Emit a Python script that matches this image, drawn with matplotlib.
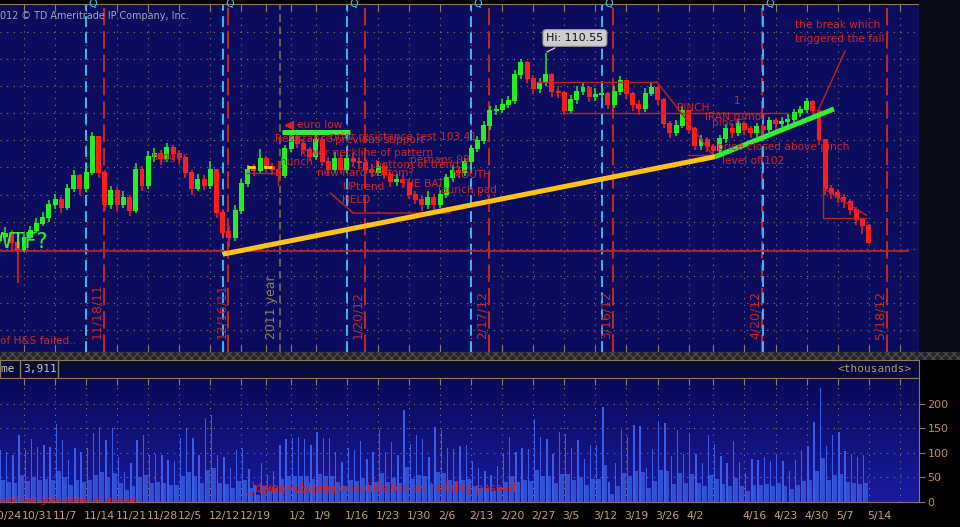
import matplotlib
matplotlib.use('Agg')
import matplotlib.pyplot as plt
import numpy as np
import pandas as pd
from matplotlib.patches import Rectangle
from matplotlib.colors import LinearSegmentedColormap

# ---------------- data ----------------
holidays = ['2011-12-23', '2011-12-26', '2012-01-02', '2012-04-06']
week_labels = ['10/24', '10/31', '11/7', '11/14', '11/21', '11/28', '12/5', '12/12', '12/19', '',
               '1/2', '1/9', '1/16', '1/23', '1/30', '2/6', '2/13', '2/20', '2/27', '3/5', '3/12',
               '3/19', '3/26', '4/2', '', '4/16', '4/23', '4/30', '5/7', '5/14', '']

closes = [93.2, 93.6, 93.9, 93.0, 92.4, 93.5, 94.1, 94.8, 95.3, 96.5, 97.0, 96.3, 98.0, 99.2, 98.0,
          99.5, 102.8, 99.5, 96.5, 97.8, 96.5, 97.2, 96.0, 99.8, 98.3, 101.0, 101.2, 100.8, 101.8,
          101.2, 100.9, 99.5, 98.0, 98.8, 98.3, 99.8, 95.8, 94.0, 93.5, 96.0, 98.5, 99.8, 99.7,
          100.8, 100.0, 99.8, 99.2, 101.7, 102.8, 102.2, 101.6, 101.0, 102.5, 100.5, 99.8, 100.8,
          99.8, 100.8, 100.5, 100.4, 99.8, 99.5, 100.0, 99.3, 98.7, 98.8, 98.6, 97.5, 97.0, 96.5,
          97.2, 96.5, 97.5, 99.0, 99.7, 99.5, 100.5, 101.7, 102.4, 103.8, 105.2, 105.3, 105.8,
          106.1, 108.5, 109.6, 108.2, 107.2, 107.8, 108.5, 107.0, 106.9, 105.2, 106.2, 107.0,
          107.3, 106.5, 106.7, 106.8, 105.8, 107.0, 108.0, 106.8, 105.8, 105.4, 106.8, 107.3,
          106.2, 104.0, 103.2, 103.8, 105.2, 103.5, 102.0, 102.5, 101.9, 101.5, 102.6, 103.5,
          103.2, 104.0, 103.5, 103.2, 103.7, 103.5, 104.3, 104.0, 104.2, 104.4, 105.0, 105.3,
          106.0, 105.2, 102.5, 98.0, 97.6, 97.2, 96.8, 96.1, 95.2, 94.6, 93.07]
highs = [93.8, 94.2, 94.5, 94.2, 93.4, 93.9, 94.6, 95.3, 95.9, 97.0, 97.6, 97.3, 98.5, 99.8, 99.4,
         100.2, 103.3, 102.9, 99.8, 98.3, 98.2, 97.8, 97.5, 100.4, 100.1, 101.5, 101.8, 101.6,
         102.3, 102.1, 101.6, 101.1, 99.8, 99.4, 99.3, 100.6, 99.9, 96.2, 94.6, 96.5, 98.9, 100.2,
         100.3, 101.7, 101.1, 100.4, 100.1, 102.1, 103.3, 103.1, 102.6, 101.9, 103.3, 102.8,
         101.0, 101.4, 101.2, 101.4, 101.3, 101.0, 100.8, 100.3, 100.6, 100.4, 99.6, 99.4, 99.3,
         98.9, 97.8, 97.4, 97.8, 97.6, 97.9, 99.4, 100.2, 100.1, 100.9, 102.1, 102.9, 104.3,
         105.7, 105.8, 106.3, 106.6, 109.0, 110.0, 109.8, 108.5, 108.3, 110.55, 108.7, 107.5,
         107.1, 106.7, 107.5, 107.8, 107.5, 107.3, 107.3, 107.0, 107.5, 108.4, 108.1, 107.0,
         106.2, 107.3, 107.8, 107.5, 106.4, 104.3, 104.4, 105.7, 105.3, 103.7, 103.0, 102.8,
         102.2, 103.0, 104.0, 104.1, 104.5, 104.3, 103.8, 104.1, 104.0, 104.7, 104.6, 104.7,
         104.9, 105.4, 105.7, 106.4, 106.2, 105.3, 102.6, 98.4, 98.0, 97.6, 97.1, 96.4, 95.3, 94.8]
lows = [92.6, 92.9, 93.2, 92.3, 89.3, 92.2, 93.3, 94.0, 94.6, 95.0, 96.2, 95.8, 96.1, 97.7, 97.5,
        97.7, 99.3, 99.0, 96.0, 96.2, 96.0, 96.3, 95.5, 95.8, 97.8, 98.0, 100.5, 100.2, 100.5,
        100.7, 100.3, 99.0, 97.5, 97.8, 97.9, 98.0, 95.3, 93.5, 92.7, 93.2, 95.7, 98.2, 99.2,
        99.5, 99.6, 99.3, 98.8, 99.0, 101.4, 101.8, 101.2, 100.6, 100.7, 100.1, 99.3, 99.5, 99.4,
        99.5, 100.0, 99.9, 99.4, 99.1, 99.2, 98.9, 98.2, 98.3, 98.1, 97.1, 96.6, 96.0, 96.2, 96.1,
        96.3, 97.2, 98.7, 99.0, 99.2, 100.2, 101.4, 102.2, 103.5, 104.8, 105.0, 105.5, 105.9,
        108.2, 107.8, 106.8, 106.9, 107.5, 106.5, 106.4, 104.8, 104.9, 105.9, 106.7, 106.0,
        106.1, 106.3, 105.4, 105.5, 106.7, 106.3, 105.2, 104.8, 105.1, 106.6, 105.8, 103.6,
        102.7, 102.9, 103.6, 103.1, 101.6, 101.6, 101.4, 101.0, 101.2, 102.3, 102.7, 102.9,
        103.0, 102.7, 102.8, 103.0, 103.2, 103.5, 103.7, 103.9, 104.1, 104.7, 105.0, 104.8,
        102.1, 97.5, 97.1, 96.7, 96.3, 95.6, 94.7, 93.9, 92.9]

# volume (thousands), one value per session starting 10/25/11
vol_peak = [105, 102, 95, 136, 105, 129, 112, 115, 111, 158, 125, 85, 109, 101, 109, 140, 152, 125,
            150, 91, 60, 79, 125, 136, 95, 97, 95, 85, 83, 131, 150, 131, 95, 170, 176, 95, 91, 70,
            105, 109, 68, 35, 79, 54, 64, 115, 129, 131, 133, 129, 115, 143, 131, 131, 101, 81,
            109, 105, 123, 88, 101, 147, 101, 121, 95, 186, 117, 137, 129, 91, 152, 146, 109, 107,
            113, 115, 83, 70, 64, 55, 74, 99, 133, 101, 109, 107, 168, 133, 129, 97, 143, 139, 109,
            125, 88, 115, 115, 194, 40, 79, 147, 133, 156, 154, 70, 107, 163, 160, 93, 147, 97,
            141, 97, 79, 136, 117, 93, 79, 123, 81, 58, 88, 86, 91, 83, 97, 83, 64, 85, 105, 113,
            162, 231, 113, 136, 143, 103, 97, 91, 95]
vol_base = [45, 40, 38, 55, 42, 50, 44, 46, 45, 62, 50, 35, 44, 40, 45, 55, 60, 50, 58, 38, 25, 32,
            50, 54, 38, 40, 38, 35, 34, 52, 60, 52, 38, 66, 70, 38, 36, 28, 42, 44, 28, 15, 32, 22,
            26, 46, 52, 52, 53, 52, 46, 57, 52, 52, 40, 33, 44, 42, 49, 35, 40, 58, 40, 48, 38, 72,
            47, 55, 52, 36, 60, 58, 44, 43, 45, 46, 33, 28, 26, 22, 30, 40, 53, 40, 44, 43, 66, 53,
            52, 39, 57, 56, 44, 50, 35, 46, 46, 75, 16, 32, 58, 53, 62, 61, 28, 43, 65, 64, 37, 58,
            39, 56, 39, 32, 54, 47, 37, 32, 49, 32, 23, 35, 34, 36, 33, 39, 33, 26, 34, 42, 45, 64,
            90, 45, 54, 57, 41, 39, 36, 38]

expirations = ['2011-11-18', '2011-12-16', '2012-01-20', '2012-02-17', '2012-03-16', '2012-04-20', '2012-05-18']
exp_labels = ['11/18/11', '12/16/11', '1/20/12', '2/17/12', '3/16/12', '4/20/12', '5/18/12']
q_dates = ['2011-11-14', '2011-12-14', '2012-01-16', '2012-02-13', '2012-03-13', '2012-04-19']
last_price = 93.07
hi_price = 110.55
volume_now = '3,911'

# ---------------- calendar ----------------
days = pd.bdate_range('2011-10-24', '2012-05-31')
days = days[~days.isin(pd.to_datetime(holidays))]
def di(s):
    return int(days.searchsorted(pd.Timestamp(s)))
mondays = pd.date_range('2011-10-24', periods=len(week_labels), freq='7D')
week_pos = [di(m) for m in mondays]

# ---------------- style ----------------
BG = '#0c0c5e'
TAN = '#8c7a58'
LBL = '#b99062'
GRN = '#22ee22'
CYAN = '#3fc4ff'
GRID = dict(color='#837858', lw=0.8, linestyle=(0, (1, 5)))

W, H = 960, 527
fig = plt.figure(figsize=(9.6, 5.27), dpi=100, facecolor='#000000')
fig.patches.append(Rectangle((919 / W, 1 - 352 / H), 41 / W, 352 / H, transform=fig.transFigure,
                             facecolor='#0a0a16', edgecolor='none', zorder=0))
fig.patches.append(Rectangle((0, 1 - 360 / H), 1, 8 / H, transform=fig.transFigure,
                             facecolor='#262626', edgecolor='#4a4a4a', hatch='xxxx', lw=0, zorder=0))

ax = fig.add_axes([0, 1 - 352 / H, 919 / W, 348 / H])
axh = fig.add_axes([0, 1 - 378 / H, 919 / W, 18 / H])
axv = fig.add_axes([0, 1 - 502 / H, 919 / W, 124 / H])

XL = (1.135, 149.1)

# ---------------- price panel ----------------
ax.set_facecolor(BG)
c = np.array(closes)
o = np.r_[c[0], c[:-1]]
x = np.arange(len(c))
col = np.where(c >= o, GRN, '#ff1c1c')
ax.vlines(x, lows, highs, colors=col, lw=1.1, zorder=3)
ax.bar(x, np.abs(c - o) + 0.1, bottom=np.minimum(o, c), width=0.8, color=col, zorder=3)

yt = np.arange(85, 113, 2.5)
ax.set_yticks(yt)
ax.set_yticklabels([f'{v:g}' for v in yt])
ax.yaxis.tick_right()
ax.tick_params(axis='y', colors=TAN, labelcolor=LBL, labelsize=8, length=4, width=1, pad=2)
ax.set_xticks(week_pos)
ax.set_xticklabels([])
ax.tick_params(axis='x', colors=TAN, direction='in', length=5, top=True, bottom=True)
ax.set_xlim(*XL)
ax.set_ylim(82.98, 115.08)
for s in ax.spines.values():
    s.set_color(TAN)
ax.spines['left'].set_visible(False)
for v in yt:
    ax.axhline(v, zorder=1, **GRID)
for p in week_pos:
    ax.axvline(p, zorder=1, **GRID)

# option-expiration lines and labels
for d, lab in zip(expirations, exp_labels):
    xe = di(d) - 1.1
    ax.axvline(xe, color='#c42626', lw=1.4, dashes=(9, 3), zorder=2)
    ax.text(xe - 1.15, 84.15, lab, rotation=90, rotation_mode='anchor', ha='left', va='center',
            color='#c42626', fontsize=9)
for d in q_dates:
    xq = di(d)
    ax.axvline(xq, color=CYAN, lw=1.3, dashes=(6, 3), zorder=2)
    ax.text(xq + 0.4, 1.0, 'Q', transform=ax.get_xaxis_transform(), color=CYAN, fontsize=8,
            ha='left', va='center', clip_on=False)
# year boundary
xy_ = di('2011-12-29') + 0.2
ax.axvline(xy_, color='#8a7650', lw=1.1, dashes=(5, 3), zorder=2)
ax.text(xy_ - 1.3, 84.2, '2011 year', rotation=90, rotation_mode='anchor', ha='left', va='center',
        color='#8c7e60', fontsize=9)

# trend lines
ax.plot([-1, 147.3], [92.3, 92.3], color='#c42020', lw=1.3, zorder=2)
ax.plot([37.0, 116.3], [92.0, 101.0], color='#ffc21a', lw=3.6, solid_capstyle='butt', zorder=5)
ax.plot([116.3, 135.4], [101.0, 105.4], color='#33ee33', lw=3.6, solid_capstyle='butt', zorder=5)
ax.plot([46.6, 57.5], [103.3, 103.3], color='#33ee33', lw=3.6, solid_capstyle='butt', zorder=5)
ax.plot([40.9, 45.3], [100.0, 100.0], color='#ffd21a', lw=2, dashes=(3, 3), zorder=5)

red_thin = dict(color='#c42020', lw=1.0, zorder=4)
ax.plot([87.6, 106.9], [107.9, 107.9], **red_thin)
ax.plot([91.8, 127.9], [105.0, 105.0], **red_thin)
ax.plot([106.9, 111.0, 116.2], [107.9, 104.9, 100.9], **red_thin)
ax.plot([111.9, 116.4], [101.15, 101.15], **red_thin)
ax.plot([137.2, 132.7], [110.75, 105.03], **red_thin)
ax.plot([133.7, 140.6], [98.1, 95.6], **red_thin)
ax.plot([133.7, 133.7, 140.6], [98.1, 95.3, 95.3], **red_thin)
ax.plot([54.3, 58.0, 73.6], [97.65, 95.8, 95.8], **red_thin)
ax.plot([40.9, 45.9], [99.5, 99.5], **red_thin)
ax.plot([45.9, 45.9], [100.6, 98.4], **red_thin)

ann = dict(color='#d42222', fontsize=7.6, zorder=6, va='center', ha='left')
ax.text(129.2, 113.15, 'the break which', **ann)
ax.text(129.2, 111.85, 'triggered the fall', **ann)
ax.text(110.2, 105.5, 'PINCH', **ann)
ax.text(114.7, 104.66, 'IRAN rumor', **ann)
ax.text(119.3, 106.1, '1', **ann)
ax.text(115.8, 104.1, 'pinch', **ann)
ax.text(116.6, 101.9, 'price closed above pinch', **ann)
ax.text(117.4, 100.6, 'level of 102', **ann)
ax.plot([47.7], [103.9], marker='<', color='#d42222', ms=6, zorder=6)
ax.text(49.0, 103.9, 'euro low', **ann)
ax.text(45.4, 102.6, 'Resistance', **ann)
ax.text(54.3, 102.8, 'prior resistance test 103.41', **ann)
ax.text(55.0, 102.55, 'previous support', **ann)
ax.text(49.4, 101.3, 'lower neckline of pattern', **ann)
ax.text(67.2, 100.7, 'perhaps 99', **ann)
ax.text(61.5, 100.25, 'bottom of trend', **ann)
ax.text(46.2, 100.5, 'hunch', **ann)
ax.text(52.2, 99.5, 'new hard bottom?', **ann)
ax.text(56.2, 98.2, 'UPtrend', **ann)
ax.text(56.2, 97.0, 'HELD', **ann)
ax.text(65.5, 98.5, 'THE BAT', **ann)
ax.text(71.7, 97.9, 'launch pad', **ann)
ax.text(73.9, 99.3, 'MOUTH', **ann)
ax.text(25.6, 101.0, 'trigger', **ann)
ax.text(1.14, 84.0, 'of H&S failed..', **ann)
ax.text(-0.3, 93.1, 'WTF?', color='#33ee33', fontsize=15, ha='left', va='center', zorder=6)

ax.annotate(f'Hi: {hi_price:.2f}', xy=(88.8, hi_price), xytext=(93.7, 111.95), ha='center',
            va='center', fontsize=8, color='#111111', zorder=7,
            bbox=dict(boxstyle='round,pad=0.3', fc='#cdcdcd', ec='#9a9a9a', lw=0.8),
            arrowprops=dict(arrowstyle='-', color='#c8c8c8', lw=1))
ax.text(1.0045, last_price, f'{last_price:.2f}', transform=ax.get_yaxis_transform(), ha='left',
        va='center', color='white', fontsize=8.5, zorder=8, clip_on=False,
        bbox=dict(boxstyle='round,pad=0.2', fc='#e01c1c', ec='#e01c1c'))
ax.text(-0.006, 1 - 12 / 348, '2012 © TD Ameritrade IP Company, Inc.', transform=ax.transAxes,
        color='#a4a4b8', fontsize=6.9, ha='left', va='center')

# ---------------- header band ----------------
axh.set_facecolor('#0a0a3a')
axh.set_xlim(0, 919)
axh.set_ylim(0, 1)
axh.set_xticks([])
axh.set_yticks([])
for s in axh.spines.values():
    s.set_color(TAN)
axh.axvline(19.5, color=TAN, lw=1)
axh.axvline(58, color=TAN, lw=1)
axh.text(15, 0.5, 'Volume', ha='right', va='center', color='#c8c8c8', fontsize=8, family='DejaVu Sans Mono')
axh.text(23, 0.5, volume_now, ha='left', va='center', color='#c8c8c8', fontsize=8, family='DejaVu Sans Mono')
axh.text(912, 0.5, '<thousands>', ha='right', va='center', color='#a89878', fontsize=8, family='DejaVu Sans Mono')

# ---------------- volume panel ----------------
grad = np.linspace(0, 1, 100).reshape(-1, 1)
cm = LinearSegmentedColormap.from_list('g', ['#1a1aa0', '#0a0a58'])
axv.imshow(grad, extent=(0, 1, 0, 1), transform=axv.transAxes, origin='lower', aspect='auto',
           cmap=cm, zorder=0)
xv = np.arange(1, len(vol_peak) + 1) + 0.4
axv.bar(xv + 0.15, vol_base, width=0.75, color='#3050d0', zorder=3)
axv.bar(xv - 0.2, vol_peak, width=0.22, color='#3a5ce6', zorder=3)
vt = [0, 50, 100, 150, 200]
axv.set_yticks(vt)
axv.yaxis.tick_right()
axv.tick_params(axis='y', colors=TAN, labelcolor=LBL, labelsize=8, length=4, pad=2)
axv.set_xticks(week_pos)
axv.set_xticklabels([])
axv.tick_params(axis='x', colors=TAN, direction='in', length=5, top=True, bottom=False)
axv.set_xlim(*XL)
axv.set_ylim(0, 252)
for s in axv.spines.values():
    s.set_color(TAN)
axv.spines['left'].set_visible(False)
for v in vt[1:]:
    axv.axhline(v, zorder=1, **GRID)
for p in week_pos:
    axv.axvline(p, zorder=1, **GRID)
for p, lab in zip(week_pos, week_labels):
    axv.text(p - 0.3, -14 / 124, lab, transform=axv.get_xaxis_transform(), ha='left', va='center',
             color='#c4a274', fontsize=7.8, clip_on=False)
axv.text(40.7, 28, '_lower volume consolidaiton as holiday passed', color='#d42222', fontsize=8.3,
         ha='left', va='center', zorder=6)
axv.text(42.8, 26, 'lower volume', color='#d42222', fontsize=8.3, ha='left', va='center', zorder=6)
axv.text(1.14, 4, 'confirmed green screen volume bar', color='#d42222', fontsize=5.5,
         ha='left', va='center', zorder=6)

fig.savefig('out.png', dpi=100, facecolor=fig.get_facecolor())
